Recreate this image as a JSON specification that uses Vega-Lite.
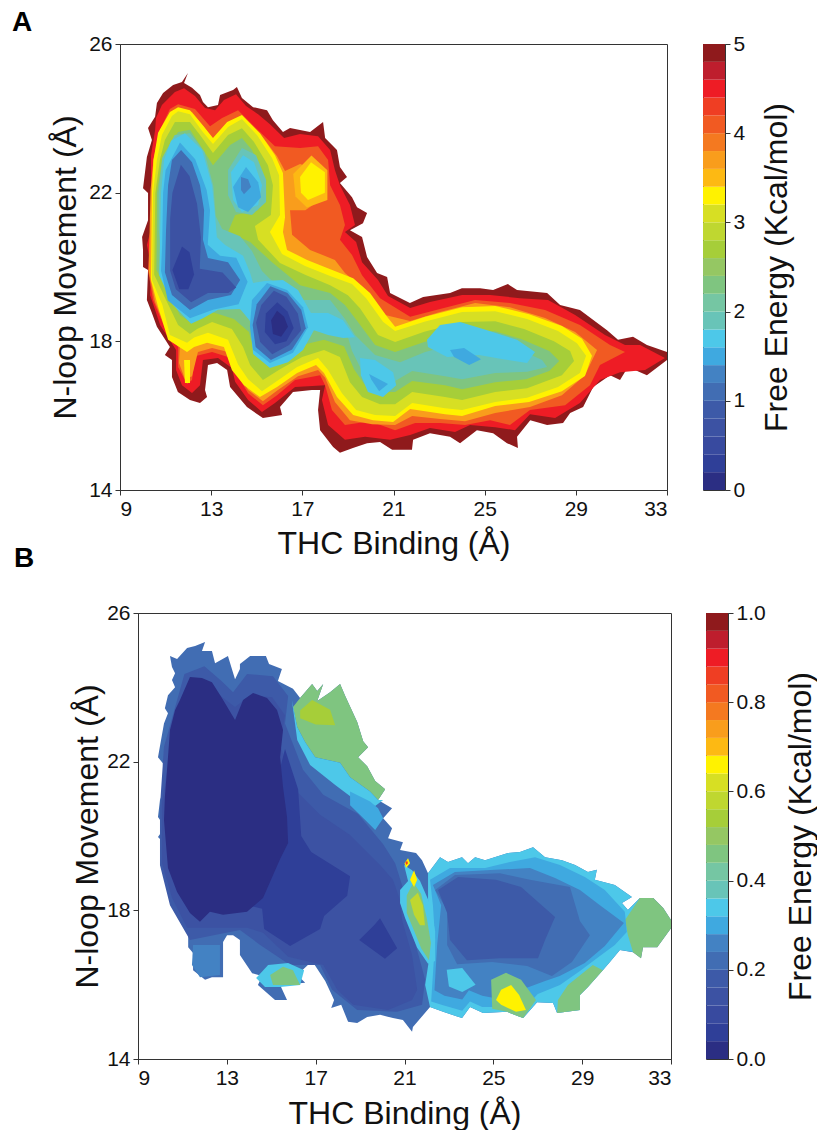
{"$schema":"https://vega.github.io/schema/vega-lite/v6.json","autosize":{"type":"none"},"padding":{"left":120,"top":44,"right":697,"bottom":1086},"background":"white","config":{"font":"Liberation Sans","view":{"stroke":"#333333","strokeWidth":1},"axis":{"grid":false,"labelFont":"Liberation Sans","titleFont":"Liberation Sans","labelFontSize":21,"titleFontSize":32,"titleFontWeight":"normal","labelColor":"#111","titleColor":"#111","domainColor":"#333","tickColor":"#333","tickSize":5,"labelPadding":3}},
"datasets":{"a":[
{"p":1,"l":4.8,"x":10.62,"y":24.41},{"p":1,"l":4.8,"x":10.89,"y":24.68},{"p":1,"l":4.8,"x":11.33,"y":24.9},{"p":1,"l":4.8,"x":11.72,"y":24.98},{"p":1,"l":4.8,"x":11.98,"y":25.22},{"p":1,"l":4.8,"x":11.81,"y":24.95},{"p":1,"l":4.8,"x":12.16,"y":24.82},{"p":1,"l":4.8,"x":12.51,"y":24.63},{"p":1,"l":4.8,"x":12.64,"y":24.44},{"p":1,"l":4.8,"x":12.86,"y":24.3},{"p":1,"l":4.8,"x":13.3,"y":24.36},{"p":1,"l":4.8,"x":13.39,"y":24.63},{"p":1,"l":4.8,"x":13.96,"y":24.76},{"p":1,"l":4.8,"x":14.13,"y":24.84},{"p":1,"l":4.8,"x":14.35,"y":24.55},{"p":1,"l":4.8,"x":14.84,"y":24.3},{"p":1,"l":4.8,"x":15.45,"y":24.22},{"p":1,"l":4.8,"x":15.71,"y":23.95},{"p":1,"l":4.8,"x":16.15,"y":23.63},{"p":1,"l":4.8,"x":16.46,"y":23.74},{"p":1,"l":4.8,"x":17.34,"y":23.63},{"p":1,"l":4.8,"x":17.91,"y":23.9},{"p":1,"l":4.8,"x":18,"y":23.47},{"p":1,"l":4.8,"x":18.52,"y":23.15},{"p":1,"l":4.8,"x":18.65,"y":22.69},{"p":1,"l":4.8,"x":18.96,"y":22.42},{"p":1,"l":4.8,"x":18.65,"y":22.26},{"p":1,"l":4.8,"x":19.18,"y":21.88},{"p":1,"l":4.8,"x":19.4,"y":21.61},{"p":1,"l":4.8,"x":19.84,"y":21.45},{"p":1,"l":4.8,"x":19.66,"y":21.18},{"p":1,"l":4.8,"x":19.09,"y":20.99},{"p":1,"l":4.8,"x":19.62,"y":20.81},{"p":1,"l":4.8,"x":19.84,"y":20.27},{"p":1,"l":4.8,"x":20.28,"y":19.84},{"p":1,"l":4.8,"x":20.72,"y":19.73},{"p":1,"l":4.8,"x":20.85,"y":19.3},{"p":1,"l":4.8,"x":21.72,"y":19.03},{"p":1,"l":4.8,"x":22.3,"y":19.19},{"p":1,"l":4.8,"x":23.48,"y":19.3},{"p":1,"l":4.8,"x":24,"y":19.43},{"p":1,"l":4.8,"x":24.8,"y":19.43},{"p":1,"l":4.8,"x":25.37,"y":19.38},{"p":1,"l":4.8,"x":26.02,"y":19.54},{"p":1,"l":4.8,"x":26.42,"y":19.38},{"p":1,"l":4.8,"x":27.74,"y":19.3},{"p":1,"l":4.8,"x":28.31,"y":18.98},{"p":1,"l":4.8,"x":29.18,"y":18.84},{"p":1,"l":4.8,"x":30.37,"y":18.3},{"p":1,"l":4.8,"x":30.85,"y":18.04},{"p":1,"l":4.8,"x":31.51,"y":18.12},{"p":1,"l":4.8,"x":32.12,"y":17.9},{"p":1,"l":4.8,"x":33,"y":17.71},{"p":1,"l":4.8,"x":33,"y":17.5},{"p":1,"l":4.8,"x":32.12,"y":17.09},{"p":1,"l":4.8,"x":31.29,"y":17.31},{"p":1,"l":4.8,"x":30.94,"y":16.96},{"p":1,"l":4.8,"x":30.5,"y":17.09},{"p":1,"l":4.8,"x":29.76,"y":16.77},{"p":1,"l":4.8,"x":29.32,"y":16.23},{"p":1,"l":4.8,"x":28.75,"y":16.07},{"p":1,"l":4.8,"x":28.44,"y":15.8},{"p":1,"l":4.8,"x":27.74,"y":15.75},{"p":1,"l":4.8,"x":27,"y":15.88},{"p":1,"l":4.8,"x":26.42,"y":15.43},{"p":1,"l":4.8,"x":26.46,"y":15.13},{"p":1,"l":4.8,"x":25.98,"y":15.26},{"p":1,"l":4.8,"x":25.37,"y":15.53},{"p":1,"l":4.8,"x":24.66,"y":15.61},{"p":1,"l":4.8,"x":23.92,"y":15.26},{"p":1,"l":4.8,"x":23.48,"y":15.43},{"p":1,"l":4.8,"x":22.6,"y":15.53},{"p":1,"l":4.8,"x":21.86,"y":15.35},{"p":1,"l":4.8,"x":21.81,"y":15.08},{"p":1,"l":4.8,"x":20.94,"y":15.08},{"p":1,"l":4.8,"x":20.41,"y":15.29},{"p":1,"l":4.8,"x":19.84,"y":15.26},{"p":1,"l":4.8,"x":19.22,"y":15.13},{"p":1,"l":4.8,"x":18.65,"y":15},{"p":1,"l":4.8,"x":18.35,"y":15.16},{"p":1,"l":4.8,"x":17.78,"y":15.61},{"p":1,"l":4.8,"x":17.69,"y":16.15},{"p":1,"l":4.8,"x":17.78,"y":16.69},{"p":1,"l":4.8,"x":17.42,"y":16.69},{"p":1,"l":4.8,"x":16.59,"y":16.64},{"p":1,"l":4.8,"x":16.02,"y":16.23},{"p":1,"l":4.8,"x":16.11,"y":16.02},{"p":1,"l":4.8,"x":15.27,"y":15.94},{"p":1,"l":4.8,"x":14.57,"y":16.23},{"p":1,"l":4.8,"x":13.83,"y":16.77},{"p":1,"l":4.8,"x":13.7,"y":17.23},{"p":1,"l":4.8,"x":13.26,"y":17.42},{"p":1,"l":4.8,"x":12.86,"y":17.36},{"p":1,"l":4.8,"x":12.73,"y":16.69},{"p":1,"l":4.8,"x":12.82,"y":16.5},{"p":1,"l":4.8,"x":12.51,"y":16.34},{"p":1,"l":4.8,"x":12.07,"y":16.42},{"p":1,"l":4.8,"x":11.54,"y":16.64},{"p":1,"l":4.8,"x":11.28,"y":17.04},{"p":1,"l":4.8,"x":11.28,"y":17.5},{"p":1,"l":4.8,"x":10.97,"y":17.63},{"p":1,"l":4.8,"x":11.19,"y":17.85},{"p":1,"l":4.8,"x":10.62,"y":18.39},{"p":1,"l":4.8,"x":10.4,"y":18.76},{"p":1,"l":4.8,"x":10.18,"y":19.11},{"p":1,"l":4.8,"x":10.23,"y":19.92},{"p":1,"l":4.8,"x":10.01,"y":20},{"p":1,"l":4.8,"x":10.01,"y":20.46},{"p":1,"l":4.8,"x":9.97,"y":20.81},{"p":1,"l":4.8,"x":10.23,"y":21.26},{"p":1,"l":4.8,"x":10.23,"y":21.99},{"p":1,"l":4.8,"x":10.01,"y":22.12},{"p":1,"l":4.8,"x":10.18,"y":22.96},{"p":1,"l":4.8,"x":10.4,"y":23.42},{"p":1,"l":4.8,"x":10.23,"y":23.74},{"p":1,"l":4.8,"x":10.54,"y":24.04},
{"p":2,"l":4.4,"x":10.58,"y":24.01},{"p":2,"l":4.4,"x":10.84,"y":24.36},{"p":2,"l":4.4,"x":11.41,"y":24.71},{"p":2,"l":4.4,"x":11.81,"y":24.81},{"p":2,"l":4.4,"x":12.29,"y":24.6},{"p":2,"l":4.4,"x":12.73,"y":24.28},{"p":2,"l":4.4,"x":13.17,"y":24.22},{"p":2,"l":4.4,"x":13.56,"y":24.49},{"p":2,"l":4.4,"x":14.09,"y":24.65},{"p":2,"l":4.4,"x":14.53,"y":24.33},{"p":2,"l":4.4,"x":15.06,"y":24.11},{"p":2,"l":4.4,"x":15.58,"y":23.84},{"p":2,"l":4.4,"x":16.2,"y":23.47},{"p":2,"l":4.4,"x":16.9,"y":23.58},{"p":2,"l":4.4,"x":17.69,"y":23.52},{"p":2,"l":4.4,"x":18.22,"y":23.15},{"p":2,"l":4.4,"x":18.43,"y":22.61},{"p":2,"l":4.4,"x":18.65,"y":22.2},{"p":2,"l":4.4,"x":19.09,"y":21.67},{"p":2,"l":4.4,"x":19.31,"y":21.13},{"p":2,"l":4.4,"x":18.87,"y":20.94},{"p":2,"l":4.4,"x":19.36,"y":20.67},{"p":2,"l":4.4,"x":19.62,"y":20.13},{"p":2,"l":4.4,"x":20.32,"y":19.65},{"p":2,"l":4.4,"x":20.76,"y":19.22},{"p":2,"l":4.4,"x":21.73,"y":18.9},{"p":2,"l":4.4,"x":22.6,"y":19.06},{"p":2,"l":4.4,"x":24.01,"y":19.25},{"p":2,"l":4.4,"x":25.24,"y":19.25},{"p":2,"l":4.4,"x":26.55,"y":19.16},{"p":2,"l":4.4,"x":27.78,"y":19.11},{"p":2,"l":4.4,"x":28.97,"y":18.71},{"p":2,"l":4.4,"x":30.28,"y":18.17},{"p":2,"l":4.4,"x":31.16,"y":17.9},{"p":2,"l":4.4,"x":31.82,"y":17.9},{"p":2,"l":4.4,"x":32.91,"y":17.55},{"p":2,"l":4.4,"x":32.04,"y":17.23},{"p":2,"l":4.4,"x":30.94,"y":17.17},{"p":2,"l":4.4,"x":30.06,"y":16.96},{"p":2,"l":4.4,"x":29.18,"y":16.34},{"p":2,"l":4.4,"x":28.09,"y":15.94},{"p":2,"l":4.4,"x":26.99,"y":16.04},{"p":2,"l":4.4,"x":26.33,"y":15.61},{"p":2,"l":4.4,"x":25.46,"y":15.69},{"p":2,"l":4.4,"x":24.36,"y":15.75},{"p":2,"l":4.4,"x":23.7,"y":15.56},{"p":2,"l":4.4,"x":22.6,"y":15.67},{"p":2,"l":4.4,"x":21.73,"y":15.48},{"p":2,"l":4.4,"x":20.85,"y":15.35},{"p":2,"l":4.4,"x":19.75,"y":15.43},{"p":2,"l":4.4,"x":18.87,"y":15.35},{"p":2,"l":4.4,"x":18.13,"y":15.75},{"p":2,"l":4.4,"x":17.86,"y":16.42},{"p":2,"l":4.4,"x":18,"y":16.82},{"p":2,"l":4.4,"x":16.68,"y":16.77},{"p":2,"l":4.4,"x":15.8,"y":16.34},{"p":2,"l":4.4,"x":15.23,"y":16.1},{"p":2,"l":4.4,"x":14.62,"y":16.42},{"p":2,"l":4.4,"x":14.05,"y":16.91},{"p":2,"l":4.4,"x":13.91,"y":17.28},{"p":2,"l":4.4,"x":13.3,"y":17.55},{"p":2,"l":4.4,"x":12.64,"y":17.5},{"p":2,"l":4.4,"x":12.51,"y":16.82},{"p":2,"l":4.4,"x":12.16,"y":16.61},{"p":2,"l":4.4,"x":11.72,"y":16.82},{"p":2,"l":4.4,"x":11.46,"y":17.23},{"p":2,"l":4.4,"x":11.46,"y":17.77},{"p":2,"l":4.4,"x":10.76,"y":18.44},{"p":2,"l":4.4,"x":10.54,"y":18.84},{"p":2,"l":4.4,"x":10.32,"y":19.25},{"p":2,"l":4.4,"x":10.36,"y":20.05},{"p":2,"l":4.4,"x":10.18,"y":20.59},{"p":2,"l":4.4,"x":10.4,"y":21.13},{"p":2,"l":4.4,"x":10.36,"y":22.07},{"p":2,"l":4.4,"x":10.36,"y":23.01},{"p":2,"l":4.4,"x":10.54,"y":23.68},
{"p":3,"l":4.0,"x":10.76,"y":23.69},{"p":3,"l":4.0,"x":11.19,"y":24.25},{"p":3,"l":4.0,"x":11.55,"y":24.38},{"p":3,"l":4.0,"x":12.29,"y":24.25},{"p":3,"l":4.0,"x":12.95,"y":23.79},{"p":3,"l":4.0,"x":13.48,"y":24.01},{"p":3,"l":4.0,"x":14.18,"y":24.22},{"p":3,"l":4.0,"x":14.97,"y":23.73},{"p":3,"l":4.0,"x":15.8,"y":23.25},{"p":3,"l":4.0,"x":16.9,"y":23.2},{"p":3,"l":4.0,"x":17.69,"y":23.25},{"p":3,"l":4.0,"x":18.13,"y":22.88},{"p":3,"l":4.0,"x":18.22,"y":22.2},{"p":3,"l":4.0,"x":18.65,"y":21.67},{"p":3,"l":4.0,"x":18.87,"y":21.13},{"p":3,"l":4.0,"x":18.65,"y":20.73},{"p":3,"l":4.0,"x":19.18,"y":20.32},{"p":3,"l":4.0,"x":19.62,"y":19.78},{"p":3,"l":4.0,"x":20.41,"y":19.16},{"p":3,"l":4.0,"x":21.73,"y":18.66},{"p":3,"l":4.0,"x":23.04,"y":18.87},{"p":3,"l":4.0,"x":24.58,"y":19.11},{"p":3,"l":4.0,"x":26.11,"y":19.03},{"p":3,"l":4.0,"x":27.65,"y":18.84},{"p":3,"l":4.0,"x":29.18,"y":18.44},{"p":3,"l":4.0,"x":30.5,"y":17.9},{"p":3,"l":4.0,"x":31.16,"y":17.71},{"p":3,"l":4.0,"x":30.06,"y":17.36},{"p":3,"l":4.0,"x":29.62,"y":16.82},{"p":3,"l":4.0,"x":28.53,"y":16.28},{"p":3,"l":4.0,"x":26.99,"y":16.15},{"p":3,"l":4.0,"x":26.11,"y":15.75},{"p":3,"l":4.0,"x":25.24,"y":15.88},{"p":3,"l":4.0,"x":24.14,"y":15.75},{"p":3,"l":4.0,"x":23.04,"y":15.8},{"p":3,"l":4.0,"x":21.95,"y":15.8},{"p":3,"l":4.0,"x":21.07,"y":15.61},{"p":3,"l":4.0,"x":19.97,"y":15.85},{"p":3,"l":4.0,"x":18.87,"y":15.75},{"p":3,"l":4.0,"x":18.3,"y":16.15},{"p":3,"l":4.0,"x":18.0,"y":16.82},{"p":3,"l":4.0,"x":17.78,"y":17.09},{"p":3,"l":4.0,"x":16.68,"y":16.96},{"p":3,"l":4.0,"x":15.89,"y":16.55},{"p":3,"l":4.0,"x":15.27,"y":16.28},{"p":3,"l":4.0,"x":14.62,"y":16.6},{"p":3,"l":4.0,"x":14.18,"y":17.06},{"p":3,"l":4.0,"x":13.74,"y":17.58},{"p":3,"l":4.0,"x":13.04,"y":17.71},{"p":3,"l":4.0,"x":12.29,"y":17.6},{"p":3,"l":4.0,"x":12.16,"y":16.96},{"p":3,"l":4.0,"x":11.94,"y":16.85},{"p":3,"l":4.0,"x":11.55,"y":17.31},{"p":3,"l":4.0,"x":11.55,"y":17.85},{"p":3,"l":4.0,"x":10.98,"y":18.34},{"p":3,"l":4.0,"x":10.45,"y":19.11},{"p":3,"l":4.0,"x":10.23,"y":19.92},{"p":3,"l":4.0,"x":10.32,"y":20.99},{"p":3,"l":4.0,"x":10.4,"y":22.07},{"p":3,"l":4.0,"x":10.45,"y":22.88},
{"p":4,"l":3.6,"x":10.47,"y":22.88},{"p":4,"l":3.6,"x":10.8,"y":23.74},{"p":4,"l":3.6,"x":11.28,"y":24.11},{"p":4,"l":3.6,"x":11.55,"y":24.25},{"p":4,"l":3.6,"x":12.16,"y":24.17},{"p":4,"l":3.6,"x":12.73,"y":23.73},{"p":4,"l":3.6,"x":13.08,"y":23.39},{"p":4,"l":3.6,"x":13.65,"y":23.84},{"p":4,"l":3.6,"x":14.31,"y":24.06},{"p":4,"l":3.6,"x":15.23,"y":23.52},{"p":4,"l":3.6,"x":15.89,"y":22.98},{"p":4,"l":3.6,"x":16.24,"y":22.58},{"p":4,"l":3.6,"x":16.9,"y":22.77},{"p":4,"l":3.6,"x":17.78,"y":22.58},{"p":4,"l":3.6,"x":18,"y":21.9},{"p":4,"l":3.6,"x":17.13,"y":21.53},{"p":4,"l":3.6,"x":16.46,"y":21.53},{"p":4,"l":3.6,"x":16.55,"y":20.87},{"p":4,"l":3.6,"x":17.34,"y":20.46},{"p":4,"l":3.6,"x":18.43,"y":20.19},{"p":4,"l":3.6,"x":18.87,"y":19.84},{"p":4,"l":3.6,"x":19.75,"y":19.38},{"p":4,"l":3.6,"x":20.63,"y":18.71},{"p":4,"l":3.6,"x":21.73,"y":18.55},{"p":4,"l":3.6,"x":23.04,"y":18.79},{"p":4,"l":3.6,"x":24.58,"y":19.03},{"p":4,"l":3.6,"x":26.11,"y":18.92},{"p":4,"l":3.6,"x":27.65,"y":18.63},{"p":4,"l":3.6,"x":28.97,"y":18.25},{"p":4,"l":3.6,"x":29.93,"y":17.77},{"p":4,"l":3.6,"x":29.4,"y":17.09},{"p":4,"l":3.6,"x":28.39,"y":16.55},{"p":4,"l":3.6,"x":26.99,"y":16.23},{"p":4,"l":3.6,"x":25.46,"y":16.07},{"p":4,"l":3.6,"x":24.14,"y":15.85},{"p":4,"l":3.6,"x":23.04,"y":15.91},{"p":4,"l":3.6,"x":21.82,"y":15.99},{"p":4,"l":3.6,"x":21.07,"y":15.75},{"p":4,"l":3.6,"x":20.06,"y":15.77},{"p":4,"l":3.6,"x":19.09,"y":15.88},{"p":4,"l":3.6,"x":18.43,"y":16.37},{"p":4,"l":3.6,"x":18.0,"y":17.02},{"p":4,"l":3.6,"x":17.69,"y":17.23},{"p":4,"l":3.6,"x":16.81,"y":17.06},{"p":4,"l":3.6,"x":15.93,"y":16.69},{"p":4,"l":3.6,"x":15.27,"y":16.39},{"p":4,"l":3.6,"x":14.62,"y":16.69},{"p":4,"l":3.6,"x":14.18,"y":17.15},{"p":4,"l":3.6,"x":13.74,"y":17.71},{"p":4,"l":3.6,"x":13.04,"y":17.82},{"p":4,"l":3.6,"x":12.42,"y":17.71},{"p":4,"l":3.6,"x":12.16,"y":17.06},{"p":4,"l":3.6,"x":11.85,"y":16.98},{"p":4,"l":3.6,"x":11.59,"y":17.42},{"p":4,"l":3.6,"x":11.63,"y":17.88},{"p":4,"l":3.6,"x":11.11,"y":18.2},{"p":4,"l":3.6,"x":10.54,"y":19.06},{"p":4,"l":3.6,"x":10.27,"y":19.86},{"p":4,"l":3.6,"x":10.3,"y":20.99},{"p":4,"l":3.6,"x":10.34,"y":22.07},
{"p":5,"l":3.2,"x":10.47,"y":22.88},{"p":5,"l":3.2,"x":10.67,"y":23.61},{"p":5,"l":3.2,"x":11.19,"y":24.17},{"p":5,"l":3.2,"x":11.55,"y":24.3},{"p":5,"l":3.2,"x":12.07,"y":24.22},{"p":5,"l":3.2,"x":12.64,"y":23.81},{"p":5,"l":3.2,"x":13.08,"y":23.47},{"p":5,"l":3.2,"x":13.7,"y":23.9},{"p":5,"l":3.2,"x":14.35,"y":24.09},{"p":5,"l":3.2,"x":15.14,"y":23.6},{"p":5,"l":3.2,"x":15.8,"y":23.01},{"p":5,"l":3.2,"x":16.15,"y":22.53},{"p":5,"l":3.2,"x":16.24,"y":21.34},{"p":5,"l":3.2,"x":16.15,"y":20.94},{"p":5,"l":3.2,"x":16.33,"y":20.46},{"p":5,"l":3.2,"x":17.21,"y":20.19},{"p":5,"l":3.2,"x":18.09,"y":19.97},{"p":5,"l":3.2,"x":19.23,"y":19.7},{"p":5,"l":3.2,"x":19.97,"y":19.3},{"p":5,"l":3.2,"x":20.72,"y":18.66},{"p":5,"l":3.2,"x":21.07,"y":18.39},{"p":5,"l":3.2,"x":22.39,"y":18.66},{"p":5,"l":3.2,"x":24.01,"y":18.92},{"p":5,"l":3.2,"x":25.46,"y":18.95},{"p":5,"l":3.2,"x":26.95,"y":18.73},{"p":5,"l":3.2,"x":28.39,"y":18.41},{"p":5,"l":3.2,"x":29.27,"y":18.07},{"p":5,"l":3.2,"x":29.71,"y":17.61},{"p":5,"l":3.2,"x":29.4,"y":17.07},{"p":5,"l":3.2,"x":28.39,"y":16.66},{"p":5,"l":3.2,"x":26.95,"y":16.37},{"p":5,"l":3.2,"x":25.46,"y":16.26},{"p":5,"l":3.2,"x":24.01,"y":15.99},{"p":5,"l":3.2,"x":23.26,"y":16.04},{"p":5,"l":3.2,"x":21.73,"y":16.18},{"p":5,"l":3.2,"x":20.98,"y":15.83},{"p":5,"l":3.2,"x":20.1,"y":15.88},{"p":5,"l":3.2,"x":19.23,"y":16.02},{"p":5,"l":3.2,"x":18.52,"y":16.5},{"p":5,"l":3.2,"x":17.95,"y":17.15},{"p":5,"l":3.2,"x":17.6,"y":17.36},{"p":5,"l":3.2,"x":16.77,"y":17.15},{"p":5,"l":3.2,"x":15.89,"y":16.77},{"p":5,"l":3.2,"x":15.14,"y":16.5},{"p":5,"l":3.2,"x":14.44,"y":16.82},{"p":5,"l":3.2,"x":13.91,"y":17.23},{"p":5,"l":3.2,"x":13.56,"y":17.85},{"p":5,"l":3.2,"x":12.82,"y":17.96},{"p":5,"l":3.2,"x":12.25,"y":17.85},{"p":5,"l":3.2,"x":11.94,"y":17.71},{"p":5,"l":3.2,"x":11.11,"y":18.04},{"p":5,"l":3.2,"x":10.67,"y":18.93},{"p":5,"l":3.2,"x":10.36,"y":19.65},{"p":5,"l":3.2,"x":10.4,"y":21.99},
{"p":61,"l":3.4,"x":16.6,"y":22.5},{"p":61,"l":3.4,"x":17.4,"y":23},{"p":61,"l":3.4,"x":18.1,"y":22.6},{"p":61,"l":3.4,"x":18.1,"y":21.8},{"p":61,"l":3.4,"x":17.2,"y":21.6},{"p":61,"l":3.4,"x":16.7,"y":21.9},
{"p":6,"l":3.2,"x":16.9,"y":22.42},{"p":6,"l":3.2,"x":17.38,"y":22.82},{"p":6,"l":3.2,"x":17.99,"y":22.55},{"p":6,"l":3.2,"x":17.99,"y":22.0},{"p":6,"l":3.2,"x":17.25,"y":21.8},{"p":6,"l":3.2,"x":16.94,"y":22.0},
{"p":7,"l":3.2,"x":11.81,"y":17.5},{"p":7,"l":3.2,"x":12.07,"y":17.5},{"p":7,"l":3.2,"x":12.07,"y":16.88},{"p":7,"l":3.2,"x":11.85,"y":16.88},
{"p":8,"l":3.0,"x":10.62,"y":22.88},{"p":8,"l":3.0,"x":10.84,"y":23.55},{"p":8,"l":3.0,"x":11.28,"y":24.06},{"p":8,"l":3.0,"x":11.55,"y":24.19},{"p":8,"l":3.0,"x":12.07,"y":24.11},{"p":8,"l":3.0,"x":12.6,"y":23.66},{"p":8,"l":3.0,"x":13.08,"y":23.31},{"p":8,"l":3.0,"x":13.74,"y":23.77},{"p":8,"l":3.0,"x":14.35,"y":23.98},{"p":8,"l":3.0,"x":15.01,"y":23.55},{"p":8,"l":3.0,"x":15.67,"y":22.93},{"p":8,"l":3.0,"x":15.98,"y":22.47},{"p":8,"l":3.0,"x":16.02,"y":21.4},{"p":8,"l":3.0,"x":15.58,"y":20.94},{"p":8,"l":3.0,"x":16.11,"y":20.35},{"p":8,"l":3.0,"x":17.12,"y":20.03},{"p":8,"l":3.0,"x":18.22,"y":19.76},{"p":8,"l":3.0,"x":19.18,"y":19.54},{"p":8,"l":3.0,"x":19.8,"y":19.16},{"p":8,"l":3.0,"x":20.54,"y":18.53},{"p":8,"l":3.0,"x":21.07,"y":18.28},{"p":8,"l":3.0,"x":22.35,"y":18.53},{"p":8,"l":3.0,"x":24.01,"y":18.79},{"p":8,"l":3.0,"x":25.46,"y":18.81},{"p":8,"l":3.0,"x":26.86,"y":18.6},{"p":8,"l":3.0,"x":28.22,"y":18.28},{"p":8,"l":3.0,"x":29.05,"y":17.95},{"p":8,"l":3.0,"x":29.45,"y":17.61},{"p":8,"l":3.0,"x":29.18,"y":17.15},{"p":8,"l":3.0,"x":28.22,"y":16.77},{"p":8,"l":3.0,"x":26.86,"y":16.48},{"p":8,"l":3.0,"x":25.46,"y":16.37},{"p":8,"l":3.0,"x":24.01,"y":16.15},{"p":8,"l":3.0,"x":23.26,"y":16.2},{"p":8,"l":3.0,"x":21.82,"y":16.34},{"p":8,"l":3.0,"x":21.07,"y":15.99},{"p":8,"l":3.0,"x":20.19,"y":16.02},{"p":8,"l":3.0,"x":19.36,"y":16.15},{"p":8,"l":3.0,"x":18.74,"y":16.6},{"p":8,"l":3.0,"x":18.13,"y":17.23},{"p":8,"l":3.0,"x":17.69,"y":17.55},{"p":8,"l":3.0,"x":16.77,"y":17.31},{"p":8,"l":3.0,"x":15.89,"y":16.93},{"p":8,"l":3.0,"x":15.23,"y":16.66},{"p":8,"l":3.0,"x":14.62,"y":16.98},{"p":8,"l":3.0,"x":14.18,"y":17.38},{"p":8,"l":3.0,"x":13.74,"y":18.04},{"p":8,"l":3.0,"x":12.86,"y":18.23},{"p":8,"l":3.0,"x":12.25,"y":18.1},{"p":8,"l":3.0,"x":11.94,"y":17.96},{"p":8,"l":3.0,"x":11.19,"y":18.17},{"p":8,"l":3.0,"x":10.86,"y":18.98},{"p":8,"l":3.0,"x":10.4,"y":19.65},{"p":8,"l":3.0,"x":10.45,"y":21.99},
{"p":9,"l":2.6,"x":10.75,"y":22.88},{"p":9,"l":2.6,"x":10.97,"y":23.42},{"p":9,"l":2.6,"x":11.41,"y":23.9},{"p":9,"l":2.6,"x":12.07,"y":23.9},{"p":9,"l":2.6,"x":12.51,"y":23.55},{"p":9,"l":2.6,"x":13.08,"y":23.07},{"p":9,"l":2.6,"x":13.74,"y":23.55},{"p":9,"l":2.6,"x":14.35,"y":23.73},{"p":9,"l":2.6,"x":14.88,"y":23.36},{"p":9,"l":2.6,"x":15.49,"y":22.74},{"p":9,"l":2.6,"x":15.71,"y":22.2},{"p":9,"l":2.6,"x":15.62,"y":21.4},{"p":9,"l":2.6,"x":14.92,"y":21.1},{"p":9,"l":2.6,"x":15.06,"y":20.73},{"p":9,"l":2.6,"x":16.02,"y":20.11},{"p":9,"l":2.6,"x":17.12,"y":19.79},{"p":9,"l":2.6,"x":18.22,"y":19.51},{"p":9,"l":2.6,"x":19,"y":19.24},{"p":9,"l":2.6,"x":19.53,"y":18.89},{"p":9,"l":2.6,"x":20.32,"y":18.17},{"p":9,"l":2.6,"x":21.07,"y":17.98},{"p":9,"l":2.6,"x":22.35,"y":18.26},{"p":9,"l":2.6,"x":24.01,"y":18.52},{"p":9,"l":2.6,"x":25.46,"y":18.54},{"p":9,"l":2.6,"x":26.73,"y":18.33},{"p":9,"l":2.6,"x":28.04,"y":18},{"p":9,"l":2.6,"x":28.75,"y":17.74},{"p":9,"l":2.6,"x":28.92,"y":17.47},{"p":9,"l":2.6,"x":28.39,"y":17.09},{"p":9,"l":2.6,"x":26.86,"y":16.74},{"p":9,"l":2.6,"x":25.46,"y":16.64},{"p":9,"l":2.6,"x":24.01,"y":16.42},{"p":9,"l":2.6,"x":23.26,"y":16.5},{"p":9,"l":2.6,"x":21.82,"y":16.64},{"p":9,"l":2.6,"x":21.07,"y":16.31},{"p":9,"l":2.6,"x":20.41,"y":16.31},{"p":9,"l":2.6,"x":19.62,"y":16.5},{"p":9,"l":2.6,"x":19.09,"y":16.9},{"p":9,"l":2.6,"x":18.65,"y":17.58},{"p":9,"l":2.6,"x":17.95,"y":17.77},{"p":9,"l":2.6,"x":16.99,"y":17.58},{"p":9,"l":2.6,"x":16.02,"y":17.25},{"p":9,"l":2.6,"x":15.27,"y":16.96},{"p":9,"l":2.6,"x":14.71,"y":17.36},{"p":9,"l":2.6,"x":14.4,"y":17.85},{"p":9,"l":2.6,"x":13.91,"y":18.33},{"p":9,"l":2.6,"x":13.04,"y":18.52},{"p":9,"l":2.6,"x":12.38,"y":18.33},{"p":9,"l":2.6,"x":12.07,"y":18.2},{"p":9,"l":2.6,"x":11.55,"y":18.44},{"p":9,"l":2.6,"x":11.02,"y":19.11},{"p":9,"l":2.6,"x":10.5,"y":19.79},{"p":9,"l":2.6,"x":10.55,"y":21.99},
{"p":10,"l":2.2,"x":10.85,"y":22.88},{"p":10,"l":2.2,"x":11.19,"y":23.28},{"p":10,"l":2.2,"x":11.55,"y":23.63},{"p":10,"l":2.2,"x":12.07,"y":23.69},{"p":10,"l":2.2,"x":12.51,"y":23.28},{"p":10,"l":2.2,"x":13.08,"y":22.74},{"p":10,"l":2.2,"x":13.83,"y":23.28},{"p":10,"l":2.2,"x":14.35,"y":23.47},{"p":10,"l":2.2,"x":14.79,"y":23.15},{"p":10,"l":2.2,"x":15.23,"y":22.55},{"p":10,"l":2.2,"x":15.36,"y":21.93},{"p":10,"l":2.2,"x":15.06,"y":21.53},{"p":10,"l":2.2,"x":14.05,"y":21.4},{"p":10,"l":2.2,"x":13.74,"y":20.94},{"p":10,"l":2.2,"x":14.71,"y":20.67},{"p":10,"l":2.2,"x":15.67,"y":20.13},{"p":10,"l":2.2,"x":16.9,"y":19.51},{"p":10,"l":2.2,"x":18.22,"y":19.3},{"p":10,"l":2.2,"x":18.87,"y":18.98},{"p":10,"l":2.2,"x":19.44,"y":18.52},{"p":10,"l":2.2,"x":20.19,"y":17.9},{"p":10,"l":2.2,"x":21.07,"y":17.71},{"p":10,"l":2.2,"x":22.35,"y":17.98},{"p":10,"l":2.2,"x":24.01,"y":18.25},{"p":10,"l":2.2,"x":25.46,"y":18.27},{"p":10,"l":2.2,"x":26.6,"y":18.06},{"p":10,"l":2.2,"x":27.83,"y":17.74},{"p":10,"l":2.2,"x":28.27,"y":17.47},{"p":10,"l":2.2,"x":27.83,"y":17.2},{"p":10,"l":2.2,"x":26.82,"y":16.98},{"p":10,"l":2.2,"x":25.46,"y":16.9},{"p":10,"l":2.2,"x":24.01,"y":16.71},{"p":10,"l":2.2,"x":23.26,"y":16.82},{"p":10,"l":2.2,"x":21.82,"y":16.93},{"p":10,"l":2.2,"x":21.07,"y":16.64},{"p":10,"l":2.2,"x":20.41,"y":16.64},{"p":10,"l":2.2,"x":19.71,"y":16.85},{"p":10,"l":2.2,"x":19.27,"y":17.25},{"p":10,"l":2.2,"x":18.83,"y":17.87},{"p":10,"l":2.2,"x":17.95,"y":18.04},{"p":10,"l":2.2,"x":16.99,"y":17.9},{"p":10,"l":2.2,"x":16.11,"y":17.6},{"p":10,"l":2.2,"x":15.36,"y":17.47},{"p":10,"l":2.2,"x":14.88,"y":17.71},{"p":10,"l":2.2,"x":14.66,"y":18.25},{"p":10,"l":2.2,"x":14.0,"y":18.6},{"p":10,"l":2.2,"x":13.04,"y":18.79},{"p":10,"l":2.2,"x":12.38,"y":18.66},{"p":10,"l":2.2,"x":12.07,"y":18.52},{"p":10,"l":2.2,"x":11.63,"y":18.71},{"p":10,"l":2.2,"x":11.11,"y":19.32},{"p":10,"l":2.2,"x":10.6,"y":19.92},{"p":10,"l":2.2,"x":10.62,"y":21.99},
{"p":11,"l":1.8,"x":10.7,"y":21.99},{"p":11,"l":1.8,"x":10.85,"y":22.93},{"p":11,"l":1.8,"x":11.4,"y":23.55},{"p":11,"l":1.8,"x":12.07,"y":23.6},{"p":11,"l":1.8,"x":12.7,"y":23.1},{"p":11,"l":1.8,"x":13.1,"y":22.17},{"p":11,"l":1.8,"x":13.2,"y":21.37},{"p":11,"l":1.8,"x":13.48,"y":21.02},{"p":11,"l":1.8,"x":14.27,"y":20.83},{"p":11,"l":1.8,"x":14.79,"y":20.43},{"p":11,"l":1.8,"x":15.23,"y":19.89},{"p":11,"l":1.8,"x":15.58,"y":19.68},{"p":11,"l":1.8,"x":16.9,"y":19.11},{"p":11,"l":1.8,"x":18.22,"y":19.11},{"p":11,"l":1.8,"x":18.87,"y":18.6},{"p":11,"l":1.8,"x":19.31,"y":18.17},{"p":11,"l":1.8,"x":20.19,"y":17.63},{"p":11,"l":1.8,"x":21.29,"y":17.44},{"p":11,"l":1.8,"x":22.39,"y":17.71},{"p":11,"l":1.8,"x":24.01,"y":17.98},{"p":11,"l":1.8,"x":25.46,"y":18},{"p":11,"l":1.8,"x":26.55,"y":17.77},{"p":11,"l":1.8,"x":27.52,"y":17.5},{"p":11,"l":1.8,"x":27.74,"y":17.31},{"p":11,"l":1.8,"x":26.86,"y":17.18},{"p":11,"l":1.8,"x":25.46,"y":17.15},{"p":11,"l":1.8,"x":24.01,"y":16.98},{"p":11,"l":1.8,"x":23.26,"y":17.06},{"p":11,"l":1.8,"x":21.82,"y":17.2},{"p":11,"l":1.8,"x":21.07,"y":16.93},{"p":11,"l":1.8,"x":20.28,"y":16.93},{"p":11,"l":1.8,"x":19.62,"y":17.2},{"p":11,"l":1.8,"x":19.18,"y":17.74},{"p":11,"l":1.8,"x":18.96,"y":18.2},{"p":11,"l":1.8,"x":17.95,"y":18.47},{"p":11,"l":1.8,"x":16.99,"y":18.41},{"p":11,"l":1.8,"x":16.11,"y":18.04},{"p":11,"l":1.8,"x":15.36,"y":17.9},{"p":11,"l":1.8,"x":15.01,"y":18.3},{"p":11,"l":1.8,"x":14.35,"y":18.84},{"p":11,"l":1.8,"x":13.7,"y":18.98},{"p":11,"l":1.8,"x":12.6,"y":18.75},{"p":11,"l":1.8,"x":12.16,"y":18.6},{"p":11,"l":1.8,"x":11.4,"y":18.95},{"p":11,"l":1.8,"x":10.85,"y":19.92},{"p":11,"l":1.8,"x":10.7,"y":20.99},
{"p":12,"l":1.8,"x":13.74,"y":22.61},{"p":12,"l":1.8,"x":14.35,"y":23.2},{"p":12,"l":1.8,"x":14.97,"y":23.01},{"p":12,"l":1.8,"x":15.41,"y":22.34},{"p":12,"l":1.8,"x":15.41,"y":21.75},{"p":12,"l":1.8,"x":14.79,"y":21.4},{"p":12,"l":1.8,"x":14.09,"y":21.48},{"p":12,"l":1.8,"x":13.74,"y":21.93},
{"p":13,"l":1.6,"x":10.8,"y":21.99},{"p":13,"l":1.6,"x":10.93,"y":22.88},{"p":13,"l":1.6,"x":11.24,"y":23.4},{"p":13,"l":1.6,"x":11.85,"y":23.6},{"p":13,"l":1.6,"x":12.6,"y":23.15},{"p":13,"l":1.6,"x":13.04,"y":22.2},{"p":13,"l":1.6,"x":13.17,"y":21.4},{"p":13,"l":1.6,"x":13.25,"y":20.8},{"p":13,"l":1.6,"x":13.61,"y":20.59},{"p":13,"l":1.6,"x":14.4,"y":20.3},{"p":13,"l":1.6,"x":14.71,"y":19.84},{"p":13,"l":1.6,"x":14.84,"y":19.57},{"p":13,"l":1.6,"x":15.36,"y":19.62},{"p":13,"l":1.6,"x":16.15,"y":19.65},{"p":13,"l":1.6,"x":16.81,"y":19.38},{"p":13,"l":1.6,"x":17.38,"y":18.76},{"p":13,"l":1.6,"x":18.13,"y":18.76},{"p":13,"l":1.6,"x":18.79,"y":18.57},{"p":13,"l":1.6,"x":19.31,"y":18.11},{"p":13,"l":1.6,"x":18.79,"y":18.09},{"p":13,"l":1.6,"x":18.13,"y":18.17},{"p":13,"l":1.6,"x":17.51,"y":18.3},{"p":13,"l":1.6,"x":17.03,"y":17.77},{"p":13,"l":1.6,"x":16.37,"y":17.44},{"p":13,"l":1.6,"x":15.58,"y":17.28},{"p":13,"l":1.6,"x":14.84,"y":17.66},{"p":13,"l":1.6,"x":14.71,"y":18.55},{"p":13,"l":1.6,"x":14.27,"y":18.87},{"p":13,"l":1.6,"x":13.3,"y":18.85},{"p":13,"l":1.6,"x":12.64,"y":18.62},{"p":13,"l":1.6,"x":12.12,"y":18.47},{"p":13,"l":1.6,"x":11.3,"y":19},{"p":13,"l":1.6,"x":10.72,"y":19.78},
{"p":14,"l":1.6,"x":13.87,"y":22.55},{"p":14,"l":1.6,"x":14.4,"y":23.01},{"p":14,"l":1.6,"x":14.88,"y":22.82},{"p":14,"l":1.6,"x":15.23,"y":22.2},{"p":14,"l":1.6,"x":15.06,"y":21.67},{"p":14,"l":1.6,"x":14.35,"y":21.48},{"p":14,"l":1.6,"x":13.96,"y":21.8},
{"p":15,"l":1.6,"x":19.53,"y":17.55},{"p":15,"l":1.6,"x":20.19,"y":17.5},{"p":15,"l":1.6,"x":20.98,"y":17.17},{"p":15,"l":1.6,"x":21.12,"y":16.82},{"p":15,"l":1.6,"x":20.54,"y":16.5},{"p":15,"l":1.6,"x":19.88,"y":16.64},{"p":15,"l":1.6,"x":19.57,"y":17.09},
{"p":16,"l":1.6,"x":22.47,"y":18.04},{"p":16,"l":1.6,"x":23.04,"y":18.44},{"p":16,"l":1.6,"x":23.92,"y":18.52},{"p":16,"l":1.6,"x":25.11,"y":18.3},{"p":16,"l":1.6,"x":26.42,"y":18.04},{"p":16,"l":1.6,"x":27.21,"y":17.71},{"p":16,"l":1.6,"x":26.86,"y":17.42},{"p":16,"l":1.6,"x":25.81,"y":17.52},{"p":16,"l":1.6,"x":24.76,"y":17.63},{"p":16,"l":1.6,"x":23.35,"y":17.58},{"p":16,"l":1.6,"x":22.51,"y":17.85},
{"p":17,"l":1.4,"x":10.89,"y":21.99},{"p":17,"l":1.4,"x":11,"y":22.6},{"p":17,"l":1.4,"x":11.63,"y":23.35},{"p":17,"l":1.4,"x":12.3,"y":22.9},{"p":17,"l":1.4,"x":12.8,"y":22.07},{"p":17,"l":1.4,"x":12.95,"y":21.53},{"p":17,"l":1.4,"x":12.85,"y":20.6},{"p":17,"l":1.4,"x":13.39,"y":20.3},{"p":17,"l":1.4,"x":14.1,"y":20.25},{"p":17,"l":1.4,"x":14.6,"y":19.6},{"p":17,"l":1.4,"x":14.2,"y":19},{"p":17,"l":1.4,"x":13.08,"y":18.85},{"p":17,"l":1.4,"x":12.07,"y":18.62},{"p":17,"l":1.4,"x":11.1,"y":19.1},{"p":17,"l":1.4,"x":10.8,"y":19.9},{"p":17,"l":1.4,"x":10.85,"y":20.6},
{"p":18,"l":1.4,"x":14.53,"y":22.69},{"p":18,"l":1.4,"x":15.06,"y":22.28},{"p":18,"l":1.4,"x":15.19,"y":21.88},{"p":18,"l":1.4,"x":14.62,"y":21.48},{"p":18,"l":1.4,"x":14.18,"y":21.61},{"p":18,"l":1.4,"x":13.96,"y":22.15},
{"p":19,"l":1.4,"x":14.79,"y":19.11},{"p":19,"l":1.4,"x":15.45,"y":19.57},{"p":19,"l":1.4,"x":16.33,"y":19.38},{"p":19,"l":1.4,"x":17.03,"y":18.92},{"p":19,"l":1.4,"x":17.25,"y":18.38},{"p":19,"l":1.4,"x":16.59,"y":17.69},{"p":19,"l":1.4,"x":15.58,"y":17.42},{"p":19,"l":1.4,"x":14.84,"y":17.77},{"p":19,"l":1.4,"x":14.7,"y":18.4},
{"p":20,"l":1.4,"x":19.93,"y":17.12},{"p":20,"l":1.4,"x":20.76,"y":16.85},{"p":20,"l":1.4,"x":20.37,"y":16.66},{"p":20,"l":1.4,"x":20.02,"y":16.98},
{"p":21,"l":1.4,"x":23.48,"y":17.77},{"p":21,"l":1.4,"x":24.1,"y":17.82},{"p":21,"l":1.4,"x":24.84,"y":17.52},{"p":21,"l":1.4,"x":24.32,"y":17.36},{"p":21,"l":1.4,"x":23.66,"y":17.58},
{"p":22,"l":1.0,"x":11.11,"y":22.2},{"p":22,"l":1.0,"x":11.28,"y":22.88},{"p":22,"l":1.0,"x":11.68,"y":23.15},{"p":22,"l":1.0,"x":12.16,"y":22.82},{"p":22,"l":1.0,"x":12.51,"y":22.2},{"p":22,"l":1.0,"x":12.69,"y":21.53},{"p":22,"l":1.0,"x":12.64,"y":20.73},{"p":22,"l":1.0,"x":12.86,"y":20.24},{"p":22,"l":1.0,"x":13.74,"y":20.13},{"p":22,"l":1.0,"x":14.27,"y":19.65},{"p":22,"l":1.0,"x":13.87,"y":19.25},{"p":22,"l":1.0,"x":12.86,"y":19.11},{"p":22,"l":1.0,"x":12.07,"y":18.84},{"p":22,"l":1.0,"x":11.28,"y":19.25},{"p":22,"l":1.0,"x":10.97,"y":19.86},{"p":22,"l":1.0,"x":11.02,"y":20.99},
{"p":23,"l":1.0,"x":15,"y":19},{"p":23,"l":1.0,"x":15.6,"y":19.48},{"p":23,"l":1.0,"x":16.35,"y":19.3},{"p":23,"l":1.0,"x":16.95,"y":18.85},{"p":23,"l":1.0,"x":17.15,"y":18.35},{"p":23,"l":1.0,"x":16.55,"y":17.78},{"p":23,"l":1.0,"x":15.62,"y":17.5},{"p":23,"l":1.0,"x":14.95,"y":17.85},{"p":23,"l":1.0,"x":14.82,"y":18.44},
{"p":24,"l":1.2,"x":14.31,"y":22.42},{"p":24,"l":1.2,"x":14.62,"y":22.36},{"p":24,"l":1.2,"x":14.75,"y":22.15},{"p":24,"l":1.2,"x":14.44,"y":21.96},{"p":24,"l":1.2,"x":14.31,"y":22.07},
{"p":25,"l":0.6,"x":11.2,"y":21.3},{"p":25,"l":0.6,"x":11.3,"y":22},{"p":25,"l":0.6,"x":11.67,"y":22.75},{"p":25,"l":0.6,"x":12.05,"y":22.45},{"p":25,"l":0.6,"x":12.38,"y":21.7},{"p":25,"l":0.6,"x":12.55,"y":20.8},{"p":25,"l":0.6,"x":12.5,"y":19.95},{"p":25,"l":0.6,"x":13.5,"y":19.85},{"p":25,"l":0.6,"x":14.1,"y":19.45},{"p":25,"l":0.6,"x":13.75,"y":19.3},{"p":25,"l":0.6,"x":12.86,"y":19.3},{"p":25,"l":0.6,"x":12.12,"y":19.05},{"p":25,"l":0.6,"x":11.45,"y":19.4},{"p":25,"l":0.6,"x":11.2,"y":19.9},{"p":25,"l":0.6,"x":11.2,"y":20.64},
{"p":26,"l":0.6,"x":15.2,"y":18.98},{"p":26,"l":0.6,"x":15.75,"y":19.36},{"p":26,"l":0.6,"x":16.3,"y":19.2},{"p":26,"l":0.6,"x":16.8,"y":18.75},{"p":26,"l":0.6,"x":16.95,"y":18.3},{"p":26,"l":0.6,"x":16.42,"y":17.9},{"p":26,"l":0.6,"x":15.68,"y":17.65},{"p":26,"l":0.6,"x":15.15,"y":17.98},{"p":26,"l":0.6,"x":14.97,"y":18.5},
{"p":27,"l":0.2,"x":11.3,"y":19.92},{"p":27,"l":0.2,"x":11.72,"y":20.55},{"p":27,"l":0.2,"x":12.05,"y":20.4},{"p":27,"l":0.2,"x":12.25,"y":19.8},{"p":27,"l":0.2,"x":12,"y":19.4},{"p":27,"l":0.2,"x":11.6,"y":19.4},
{"p":28,"l":0.2,"x":15.4,"y":18.75},{"p":28,"l":0.2,"x":15.9,"y":19.05},{"p":28,"l":0.2,"x":16.35,"y":18.8},{"p":28,"l":0.2,"x":16.62,"y":18.36},{"p":28,"l":0.2,"x":16.3,"y":18},{"p":28,"l":0.2,"x":15.8,"y":17.92},{"p":28,"l":0.2,"x":15.35,"y":18.25},
{"p":29,"l":0.0,"x":15.63,"y":18.57},{"p":29,"l":0.0,"x":15.89,"y":18.82},{"p":29,"l":0.0,"x":16.2,"y":18.66},{"p":29,"l":0.0,"x":16.37,"y":18.39},{"p":29,"l":0.0,"x":16.07,"y":18.12},{"p":29,"l":0.0,"x":15.71,"y":18.2}
],
"b":[
{"p":1,"l":0.2,"x":10.44,"y":24.84},{"p":1,"l":0.2,"x":10.76,"y":24.76},{"p":1,"l":0.2,"x":11.21,"y":25.06},{"p":1,"l":0.2,"x":11.57,"y":25.11},{"p":1,"l":0.2,"x":12.02,"y":25.22},{"p":1,"l":0.2,"x":11.88,"y":24.98},{"p":1,"l":0.2,"x":12.33,"y":24.98},{"p":1,"l":0.2,"x":12.47,"y":24.65},{"p":1,"l":0.2,"x":13.05,"y":24.84},{"p":1,"l":0.2,"x":13.37,"y":24.22},{"p":1,"l":0.2,"x":13.59,"y":24.49},{"p":1,"l":0.2,"x":13.59,"y":24.63},{"p":1,"l":0.2,"x":14.05,"y":24.84},{"p":1,"l":0.2,"x":14.76,"y":24.84},{"p":1,"l":0.2,"x":14.9,"y":24.63},{"p":1,"l":0.2,"x":15.48,"y":24.49},{"p":1,"l":0.2,"x":15.3,"y":24.17},{"p":1,"l":0.2,"x":15.98,"y":23.96},{"p":1,"l":0.2,"x":16.3,"y":23.71},{"p":1,"l":0.2,"x":16.84,"y":24.09},{"p":1,"l":0.2,"x":17.07,"y":23.9},{"p":1,"l":0.2,"x":17.34,"y":24.09},{"p":1,"l":0.2,"x":17.07,"y":23.63},{"p":1,"l":0.2,"x":17.65,"y":23.87},{"p":1,"l":0.2,"x":18.1,"y":24.09},{"p":1,"l":0.2,"x":18.33,"y":23.77},{"p":1,"l":0.2,"x":18.87,"y":23.07},{"p":1,"l":0.2,"x":19.14,"y":22.55},{"p":1,"l":0.2,"x":19.36,"y":22.39},{"p":1,"l":0.2,"x":18.91,"y":22.12},{"p":1,"l":0.2,"x":19.32,"y":21.88},{"p":1,"l":0.2,"x":19.68,"y":21.48},{"p":1,"l":0.2,"x":20.13,"y":21.26},{"p":1,"l":0.2,"x":19.81,"y":20.97},{"p":1,"l":0.2,"x":20.44,"y":20.75},{"p":1,"l":0.2,"x":20.04,"y":20.48},{"p":1,"l":0.2,"x":20.44,"y":20.21},{"p":1,"l":0.2,"x":20.26,"y":19.94},{"p":1,"l":0.2,"x":20.93,"y":19.83},{"p":1,"l":0.2,"x":20.8,"y":19.62},{"p":1,"l":0.2,"x":21.52,"y":19.54},{"p":1,"l":0.2,"x":21.79,"y":19.35},{"p":1,"l":0.2,"x":22.06,"y":19},{"p":1,"l":0.2,"x":22.6,"y":19.43},{"p":1,"l":0.2,"x":22.96,"y":19.3},{"p":1,"l":0.2,"x":23.59,"y":19.43},{"p":1,"l":0.2,"x":23.86,"y":19.27},{"p":1,"l":0.2,"x":24.18,"y":19.43},{"p":1,"l":0.2,"x":24.63,"y":19.35},{"p":1,"l":0.2,"x":25.66,"y":19.54},{"p":1,"l":0.2,"x":26.2,"y":19.57},{"p":1,"l":0.2,"x":26.79,"y":19.7},{"p":1,"l":0.2,"x":27.33,"y":19.43},{"p":1,"l":0.2,"x":28.09,"y":19.35},{"p":1,"l":0.2,"x":28.68,"y":19.22},{"p":1,"l":0.2,"x":29.26,"y":19.03},{"p":1,"l":0.2,"x":29.66,"y":19.09},{"p":1,"l":0.2,"x":29.57,"y":18.82},{"p":1,"l":0.2,"x":30.47,"y":18.68},{"p":1,"l":0.2,"x":31.24,"y":18.36},{"p":1,"l":0.2,"x":30.79,"y":18.2},{"p":1,"l":0.2,"x":31.06,"y":18.01},{"p":1,"l":0.2,"x":31.6,"y":18.33},{"p":1,"l":0.2,"x":32.2,"y":18.33},{"p":1,"l":0.2,"x":32.65,"y":18.06},{"p":1,"l":0.2,"x":33,"y":17.74},{"p":1,"l":0.2,"x":33,"y":17.52},{"p":1,"l":0.2,"x":32.38,"y":17.01},{"p":1,"l":0.2,"x":31.74,"y":17.01},{"p":1,"l":0.2,"x":31.65,"y":16.71},{"p":1,"l":0.2,"x":31.29,"y":16.87},{"p":1,"l":0.2,"x":30.7,"y":16.93},{"p":1,"l":0.2,"x":30.25,"y":16.61},{"p":1,"l":0.2,"x":29.93,"y":16.39},{"p":1,"l":0.2,"x":29.26,"y":15.94},{"p":1,"l":0.2,"x":28.9,"y":15.72},{"p":1,"l":0.2,"x":28.9,"y":15.32},{"p":1,"l":0.2,"x":27.87,"y":15.24},{"p":1,"l":0.2,"x":27.69,"y":15.51},{"p":1,"l":0.2,"x":26.97,"y":15.53},{"p":1,"l":0.2,"x":26.34,"y":15.1},{"p":1,"l":0.2,"x":25.62,"y":15.27},{"p":1,"l":0.2,"x":24.54,"y":15.24},{"p":1,"l":0.2,"x":23.95,"y":15.4},{"p":1,"l":0.2,"x":23.59,"y":15.1},{"p":1,"l":0.2,"x":22.74,"y":15.27},{"p":1,"l":0.2,"x":22.15,"y":15.4},{"p":1,"l":0.2,"x":21.38,"y":14.86},{"p":1,"l":0.2,"x":21.34,"y":14.73},{"p":1,"l":0.2,"x":20.93,"y":15.05},{"p":1,"l":0.2,"x":20.48,"y":15.1},{"p":1,"l":0.2,"x":19.9,"y":15.19},{"p":1,"l":0.2,"x":19.32,"y":15.13},{"p":1,"l":0.2,"x":18.87,"y":14.97},{"p":1,"l":0.2,"x":18.46,"y":15},{"p":1,"l":0.2,"x":18.15,"y":15.46},{"p":1,"l":0.2,"x":17.7,"y":15.37},{"p":1,"l":0.2,"x":17.83,"y":15.59},{"p":1,"l":0.2,"x":17.43,"y":16.1},{"p":1,"l":0.2,"x":16.84,"y":16.64},{"p":1,"l":0.2,"x":16.17,"y":16.26},{"p":1,"l":0.2,"x":16.53,"y":16.05},{"p":1,"l":0.2,"x":15.4,"y":15.99},{"p":1,"l":0.2,"x":15.71,"y":15.59},{"p":1,"l":0.2,"x":15.17,"y":15.59},{"p":1,"l":0.2,"x":14.4,"y":15.99},{"p":1,"l":0.2,"x":14.59,"y":16.23},{"p":1,"l":0.2,"x":14.14,"y":16.31},{"p":1,"l":0.2,"x":13.59,"y":16.8},{"p":1,"l":0.2,"x":13.59,"y":17.2},{"p":1,"l":0.2,"x":13.28,"y":17.33},{"p":1,"l":0.2,"x":13.01,"y":17.33},{"p":1,"l":0.2,"x":12.83,"y":17.15},{"p":1,"l":0.2,"x":12.83,"y":16.2},{"p":1,"l":0.2,"x":12.33,"y":16.2},{"p":1,"l":0.2,"x":12.02,"y":16.13},{"p":1,"l":0.2,"x":11.48,"y":16.39},{"p":1,"l":0.2,"x":11.48,"y":16.85},{"p":1,"l":0.2,"x":11.26,"y":17.01},{"p":1,"l":0.2,"x":11.26,"y":17.47},{"p":1,"l":0.2,"x":10.98,"y":17.66},{"p":1,"l":0.2,"x":11.12,"y":17.82},{"p":1,"l":0.2,"x":10.67,"y":18.09},{"p":1,"l":0.2,"x":10.67,"y":18.46},{"p":1,"l":0.2,"x":10.21,"y":18.73},{"p":1,"l":0.2,"x":10.35,"y":18.87},{"p":1,"l":0.2,"x":10.17,"y":19.0},{"p":1,"l":0.2,"x":10.17,"y":19.81},{"p":1,"l":0.2,"x":9.9,"y":19.97},{"p":1,"l":0.2,"x":10.21,"y":20.24},{"p":1,"l":0.2,"x":9.9,"y":20.51},{"p":1,"l":0.2,"x":9.99,"y":20.97},{"p":1,"l":0.2,"x":10.17,"y":21.24},{"p":1,"l":0.2,"x":10.12,"y":21.96},{"p":1,"l":0.2,"x":9.9,"y":22.12},{"p":1,"l":0.2,"x":10.17,"y":23.03},{"p":1,"l":0.2,"x":10.35,"y":23.3},{"p":1,"l":0.2,"x":10.21,"y":23.44},{"p":1,"l":0.2,"x":10.35,"y":23.79},{"p":1,"l":0.2,"x":10.67,"y":24},{"p":1,"l":0.2,"x":10.53,"y":24.2},{"p":1,"l":0.2,"x":10.67,"y":24.38},{"p":1,"l":0.2,"x":10.53,"y":24.55},
{"p":2,"l":0.32,"x":22.06,"y":19},{"p":2,"l":0.32,"x":22.6,"y":19.43},{"p":2,"l":0.32,"x":22.96,"y":19.3},{"p":2,"l":0.32,"x":23.59,"y":19.43},{"p":2,"l":0.32,"x":23.86,"y":19.27},{"p":2,"l":0.32,"x":24.18,"y":19.43},{"p":2,"l":0.32,"x":24.63,"y":19.35},{"p":2,"l":0.32,"x":25.66,"y":19.54},{"p":2,"l":0.32,"x":26.2,"y":19.57},{"p":2,"l":0.32,"x":26.79,"y":19.7},{"p":2,"l":0.32,"x":27.33,"y":19.43},{"p":2,"l":0.32,"x":28.09,"y":19.35},{"p":2,"l":0.32,"x":28.68,"y":19.22},{"p":2,"l":0.32,"x":29.26,"y":19.03},{"p":2,"l":0.32,"x":29.66,"y":19.09},{"p":2,"l":0.32,"x":29.57,"y":18.82},{"p":2,"l":0.32,"x":30.47,"y":18.68},{"p":2,"l":0.32,"x":31.24,"y":18.36},{"p":2,"l":0.32,"x":30.79,"y":18.2},{"p":2,"l":0.32,"x":31.06,"y":18.01},{"p":2,"l":0.32,"x":31.6,"y":18.33},{"p":2,"l":0.32,"x":31.15,"y":17.6},{"p":2,"l":0.32,"x":31.38,"y":16.87},{"p":2,"l":0.32,"x":30.7,"y":16.93},{"p":2,"l":0.32,"x":30.25,"y":16.61},{"p":2,"l":0.32,"x":29.93,"y":16.39},{"p":2,"l":0.32,"x":29.26,"y":15.94},{"p":2,"l":0.32,"x":28.9,"y":15.72},{"p":2,"l":0.32,"x":28.9,"y":15.32},{"p":2,"l":0.32,"x":27.87,"y":15.24},{"p":2,"l":0.32,"x":27.69,"y":15.51},{"p":2,"l":0.32,"x":26.97,"y":15.53},{"p":2,"l":0.32,"x":26.34,"y":15.1},{"p":2,"l":0.32,"x":25.62,"y":15.27},{"p":2,"l":0.32,"x":24.54,"y":15.24},{"p":2,"l":0.32,"x":23.95,"y":15.4},{"p":2,"l":0.32,"x":23.59,"y":15.1},{"p":2,"l":0.32,"x":22.74,"y":15.27},{"p":2,"l":0.32,"x":22.15,"y":15.4},{"p":2,"l":0.32,"x":21.93,"y":15.99},{"p":2,"l":0.32,"x":22.24,"y":17.2},{"p":2,"l":0.32,"x":22.06,"y":18.28},
{"p":3,"l":0.44,"x":31.6,"y":18.33},{"p":3,"l":0.44,"x":32.2,"y":18.33},{"p":3,"l":0.44,"x":32.65,"y":18.06},{"p":3,"l":0.44,"x":33,"y":17.74},{"p":3,"l":0.44,"x":33,"y":17.52},{"p":3,"l":0.44,"x":32.38,"y":17.01},{"p":3,"l":0.44,"x":31.74,"y":17.01},{"p":3,"l":0.44,"x":31.65,"y":16.71},{"p":3,"l":0.44,"x":31.29,"y":16.87},{"p":3,"l":0.44,"x":31.06,"y":17.33},{"p":3,"l":0.44,"x":30.93,"y":17.74},
{"p":4,"l":0.28,"x":22.15,"y":18.82},{"p":4,"l":0.28,"x":23.05,"y":19.14},{"p":4,"l":0.28,"x":24.63,"y":19.14},{"p":4,"l":0.28,"x":25.75,"y":19.3},{"p":4,"l":0.28,"x":26.88,"y":19.43},{"p":4,"l":0.28,"x":28,"y":19.22},{"p":4,"l":0.28,"x":29.12,"y":18.9},{"p":4,"l":0.28,"x":30.02,"y":18.55},{"p":4,"l":0.28,"x":30.92,"y":17.96},{"p":4,"l":0.28,"x":31.01,"y":17.42},{"p":4,"l":0.28,"x":30.47,"y":17.07},{"p":4,"l":0.28,"x":29.8,"y":16.77},{"p":4,"l":0.28,"x":28.9,"y":16.37},{"p":4,"l":0.28,"x":28,"y":15.99},{"p":4,"l":0.28,"x":27,"y":15.75},{"p":4,"l":0.28,"x":26.3,"y":15.3},{"p":4,"l":0.28,"x":25.6,"y":15.4},{"p":4,"l":0.28,"x":24.5,"y":15.4},{"p":4,"l":0.28,"x":23.95,"y":15.55},{"p":4,"l":0.28,"x":23.6,"y":15.3},{"p":4,"l":0.28,"x":22.7,"y":15.45},{"p":4,"l":0.28,"x":22.2,"y":15.55},{"p":4,"l":0.28,"x":22.38,"y":17.2},{"p":4,"l":0.28,"x":22.28,"y":18.14},
{"p":5,"l":0.24,"x":22.28,"y":18.68},{"p":5,"l":0.24,"x":23.27,"y":19.03},{"p":5,"l":0.24,"x":25.08,"y":19.09},{"p":5,"l":0.24,"x":26.65,"y":19.14},{"p":5,"l":0.24,"x":27.78,"y":18.87},{"p":5,"l":0.24,"x":28.9,"y":18.55},{"p":5,"l":0.24,"x":29.8,"y":18.14},{"p":5,"l":0.24,"x":30.88,"y":17.66},{"p":5,"l":0.24,"x":30.02,"y":17.04},{"p":5,"l":0.24,"x":29.12,"y":16.58},{"p":5,"l":0.24,"x":27.99,"y":16.23},{"p":5,"l":0.24,"x":27.33,"y":16.1},{"p":5,"l":0.24,"x":26.42,"y":15.9},{"p":5,"l":0.24,"x":25.4,"y":15.6},{"p":5,"l":0.24,"x":24.5,"y":15.7},{"p":5,"l":0.24,"x":23.9,"y":15.85},{"p":5,"l":0.24,"x":23.6,"y":15.6},{"p":5,"l":0.24,"x":22.8,"y":15.7},{"p":5,"l":0.24,"x":22.35,"y":15.85},{"p":5,"l":0.24,"x":22.47,"y":17.07},{"p":5,"l":0.24,"x":22.65,"y":18.14},
{"p":6,"l":0.2,"x":22.38,"y":18.55},{"p":6,"l":0.2,"x":23.27,"y":18.95},{"p":6,"l":0.2,"x":25.3,"y":19.0},{"p":6,"l":0.2,"x":26.65,"y":18.82},{"p":6,"l":0.2,"x":28.45,"y":18.63},{"p":6,"l":0.2,"x":28.9,"y":17.71},{"p":6,"l":0.2,"x":29.35,"y":17.33},{"p":6,"l":0.2,"x":28.54,"y":16.61},{"p":6,"l":0.2,"x":27.64,"y":16.23},{"p":6,"l":0.2,"x":26.52,"y":16.5},{"p":6,"l":0.2,"x":24.94,"y":16.61},{"p":6,"l":0.2,"x":23.37,"y":16.55},{"p":6,"l":0.2,"x":22.92,"y":17.07},{"p":6,"l":0.2,"x":22.92,"y":18.01},
{"p":7,"l":0.16,"x":22.51,"y":18.55},{"p":7,"l":0.16,"x":23.41,"y":18.9},{"p":7,"l":0.16,"x":25.12,"y":18.82},{"p":7,"l":0.16,"x":26.25,"y":18.63},{"p":7,"l":0.16,"x":27.78,"y":17.82},{"p":7,"l":0.16,"x":27.33,"y":17.2},{"p":7,"l":0.16,"x":27.01,"y":16.71},{"p":7,"l":0.16,"x":25.3,"y":16.71},{"p":7,"l":0.16,"x":23.81,"y":16.66},{"p":7,"l":0.16,"x":23.05,"y":17.2},{"p":7,"l":0.16,"x":22.92,"y":17.93},
{"p":71,"l":0.32,"x":22.9,"y":16.4},{"p":71,"l":0.32,"x":23.6,"y":16.45},{"p":71,"l":0.32,"x":24.2,"y":16},{"p":71,"l":0.32,"x":23.6,"y":15.8},{"p":71,"l":0.32,"x":23,"y":15.95},
{"p":8,"l":0.44,"x":16.3,"y":23.71},{"p":8,"l":0.44,"x":16.84,"y":24.09},{"p":8,"l":0.44,"x":17.07,"y":23.9},{"p":8,"l":0.44,"x":17.34,"y":24.09},{"p":8,"l":0.44,"x":17.07,"y":23.63},{"p":8,"l":0.44,"x":17.65,"y":23.87},{"p":8,"l":0.44,"x":18.1,"y":24.09},{"p":8,"l":0.44,"x":18.33,"y":23.77},{"p":8,"l":0.44,"x":18.87,"y":23.07},{"p":8,"l":0.44,"x":19.14,"y":22.55},{"p":8,"l":0.44,"x":19.36,"y":22.39},{"p":8,"l":0.44,"x":18.91,"y":22.12},{"p":8,"l":0.44,"x":19.32,"y":21.88},{"p":8,"l":0.44,"x":19.68,"y":21.48},{"p":8,"l":0.44,"x":20.13,"y":21.26},{"p":8,"l":0.44,"x":19.81,"y":20.97},{"p":8,"l":0.44,"x":19.45,"y":21.2},{"p":8,"l":0.44,"x":18.55,"y":21.58},{"p":8,"l":0.44,"x":18.1,"y":21.97},{"p":8,"l":0.44,"x":16.98,"y":22.12},{"p":8,"l":0.44,"x":16.53,"y":22.52},{"p":8,"l":0.44,"x":16.17,"y":22.93},{"p":8,"l":0.44,"x":15.98,"y":23.47},
{"p":9,"l":0.32,"x":15.93,"y":23.66},{"p":9,"l":0.32,"x":16.17,"y":22.58},{"p":9,"l":0.32,"x":16.75,"y":21.91},{"p":9,"l":0.32,"x":17.88,"y":21.37},{"p":9,"l":0.32,"x":18.78,"y":20.97},{"p":9,"l":0.32,"x":19.68,"y":20.81},{"p":9,"l":0.32,"x":20.04,"y":20.97},{"p":9,"l":0.32,"x":19.81,"y":20.97},{"p":9,"l":0.32,"x":19.45,"y":21.2},{"p":9,"l":0.32,"x":18.55,"y":21.58},{"p":9,"l":0.32,"x":18.1,"y":21.97},{"p":9,"l":0.32,"x":16.98,"y":22.12},{"p":9,"l":0.32,"x":16.53,"y":22.52},{"p":9,"l":0.32,"x":16.17,"y":22.93},
{"p":10,"l":0.52,"x":16.3,"y":23.38},{"p":10,"l":0.52,"x":16.84,"y":23.66},{"p":10,"l":0.52,"x":17.65,"y":23.4},{"p":10,"l":0.52,"x":17.88,"y":22.98},{"p":10,"l":0.52,"x":17,"y":23.0},{"p":10,"l":0.52,"x":16.3,"y":23.17},
{"p":11,"l":0.28,"x":18.55,"y":21.2},{"p":11,"l":0.28,"x":19.45,"y":20.93},{"p":11,"l":0.28,"x":19.81,"y":20.75},{"p":11,"l":0.28,"x":20.04,"y":20.48},{"p":11,"l":0.28,"x":19.68,"y":20.16},{"p":11,"l":0.28,"x":19.23,"y":20.43},{"p":11,"l":0.28,"x":18.55,"y":20.83},
{"p":12,"l":0.16,"x":10.17,"y":22.4},{"p":12,"l":0.16,"x":10.5,"y":23.1},{"p":12,"l":0.16,"x":11.09,"y":24.36},{"p":12,"l":0.16,"x":11.99,"y":24.57},{"p":12,"l":0.16,"x":12.76,"y":24.17},{"p":12,"l":0.16,"x":13.28,"y":23.87},{"p":12,"l":0.16,"x":13.91,"y":24.36},{"p":12,"l":0.16,"x":15.08,"y":24.3},{"p":12,"l":0.16,"x":15.76,"y":23.77},{"p":12,"l":0.16,"x":15.62,"y":23.03},{"p":12,"l":0.16,"x":16.43,"y":21.78},{"p":12,"l":0.16,"x":17.34,"y":21.11},{"p":12,"l":0.16,"x":18.91,"y":20.59},{"p":12,"l":0.16,"x":20.04,"y":19.78},{"p":12,"l":0.16,"x":20.58,"y":19.27},{"p":12,"l":0.16,"x":20.93,"y":18.6},{"p":12,"l":0.16,"x":21.03,"y":18.01},{"p":12,"l":0.16,"x":21.57,"y":16.93},{"p":12,"l":0.16,"x":21.93,"y":16.13},{"p":12,"l":0.16,"x":21.79,"y":15.46},{"p":12,"l":0.16,"x":20.67,"y":15.27},{"p":12,"l":0.16,"x":18.87,"y":15.32},{"p":12,"l":0.16,"x":17.74,"y":15.86},{"p":12,"l":0.16,"x":17.2,"y":16.53},{"p":12,"l":0.16,"x":15.85,"y":16.53},{"p":12,"l":0.16,"x":14.5,"y":17.07},{"p":12,"l":0.16,"x":13.59,"y":17.47},{"p":12,"l":0.16,"x":11.34,"y":17.2},{"p":12,"l":0.16,"x":10.44,"y":18.14},{"p":12,"l":0.16,"x":9.99,"y":19.21},{"p":12,"l":0.16,"x":9.99,"y":20.81},
{"p":13,"l":0.12,"x":10.53,"y":22.5},{"p":13,"l":0.12,"x":10.8,"y":23.17},{"p":13,"l":0.12,"x":11.34,"y":24.12},{"p":13,"l":0.12,"x":12.15,"y":24.12},{"p":13,"l":0.12,"x":12.78,"y":23.74},{"p":13,"l":0.12,"x":13.37,"y":23.47},{"p":13,"l":0.12,"x":14.05,"y":23.79},{"p":13,"l":0.12,"x":15.04,"y":23.73},{"p":13,"l":0.12,"x":15.62,"y":23.25},{"p":13,"l":0.12,"x":15.4,"y":22.44},{"p":13,"l":0.12,"x":16.08,"y":21.24},{"p":13,"l":0.12,"x":17.2,"y":20.57},{"p":13,"l":0.12,"x":18.55,"y":20.03},{"p":13,"l":0.12,"x":19.9,"y":19.22},{"p":13,"l":0.12,"x":20.48,"y":18.82},{"p":13,"l":0.12,"x":20.8,"y":18.28},{"p":13,"l":0.12,"x":20.89,"y":17.74},{"p":13,"l":0.12,"x":21.34,"y":16.8},{"p":13,"l":0.12,"x":21.57,"y":15.86},{"p":13,"l":0.12,"x":21.34,"y":15.59},{"p":13,"l":0.12,"x":20.26,"y":15.32},{"p":13,"l":0.12,"x":18.69,"y":15.46},{"p":13,"l":0.12,"x":17.97,"y":15.86},{"p":13,"l":0.12,"x":17.34,"y":16.53},{"p":13,"l":0.12,"x":15.76,"y":16.75},{"p":13,"l":0.12,"x":14.63,"y":17.4},{"p":13,"l":0.12,"x":13.91,"y":17.53},{"p":13,"l":0.12,"x":12.33,"y":17.53},{"p":13,"l":0.12,"x":11.21,"y":17.53},{"p":13,"l":0.12,"x":10.53,"y":18.34},{"p":13,"l":0.12,"x":10.08,"y":19.27},{"p":13,"l":0.12,"x":10.08,"y":20.9},
{"p":14,"l":0.04,"x":15.62,"y":22.34},{"p":14,"l":0.04,"x":16.21,"y":21.26},{"p":14,"l":0.04,"x":16.35,"y":20.0},{"p":14,"l":0.04,"x":16.8,"y":19.57},{"p":14,"l":0.04,"x":18.55,"y":18.92},{"p":14,"l":0.04,"x":18.42,"y":18.39},{"p":14,"l":0.04,"x":17.38,"y":17.85},{"p":14,"l":0.04,"x":17.2,"y":17.5},{"p":14,"l":0.04,"x":15.85,"y":17.04},{"p":14,"l":0.04,"x":14.68,"y":17.5},{"p":14,"l":0.04,"x":14.59,"y":18.04},{"p":14,"l":0.04,"x":13.91,"y":18.14},{"p":14,"l":0.04,"x":14.36,"y":19.62},{"p":14,"l":0.04,"x":15.04,"y":20.97},
{"p":15,"l":0.04,"x":19.9,"y":17.79},{"p":15,"l":0.04,"x":20.67,"y":16.98},{"p":15,"l":0.04,"x":20.12,"y":16.7},{"p":15,"l":0.04,"x":18.96,"y":17.2},{"p":15,"l":0.04,"x":19.63,"y":17.6},
{"p":16,"l":0.0,"x":10.89,"y":23.66},{"p":16,"l":0.0,"x":11.34,"y":24.28},{"p":16,"l":0.0,"x":11.88,"y":24.25},{"p":16,"l":0.0,"x":12.33,"y":24.14},{"p":16,"l":0.0,"x":12.78,"y":23.71},{"p":16,"l":0.0,"x":13.37,"y":23.12},{"p":16,"l":0.0,"x":13.73,"y":23.66},{"p":16,"l":0.0,"x":14.18,"y":23.85},{"p":16,"l":0.0,"x":14.81,"y":23.71},{"p":16,"l":0.0,"x":15.26,"y":23.39},{"p":16,"l":0.0,"x":15.53,"y":22.85},{"p":16,"l":0.0,"x":15.4,"y":22.12},{"p":16,"l":0.0,"x":15.53,"y":21.32},{"p":16,"l":0.0,"x":15.71,"y":20.51},{"p":16,"l":0.0,"x":15.76,"y":19.81},{"p":16,"l":0.0,"x":15.4,"y":19.38},{"p":16,"l":0.0,"x":14.63,"y":18.33},{"p":16,"l":0.0,"x":13.91,"y":17.96},{"p":16,"l":0.0,"x":12.83,"y":17.88},{"p":16,"l":0.0,"x":12.24,"y":17.96},{"p":16,"l":0.0,"x":11.79,"y":17.69},{"p":16,"l":0.0,"x":11.34,"y":17.93},{"p":16,"l":0.0,"x":10.76,"y":18.49},{"p":16,"l":0.0,"x":10.35,"y":19.14},{"p":16,"l":0.0,"x":10.17,"y":20.43},{"p":16,"l":0.0,"x":10.21,"y":21.05},{"p":16,"l":0.0,"x":10.35,"y":22.12},{"p":16,"l":0.0,"x":10.44,"y":22.85},{"p":16,"l":0.0,"x":10.67,"y":23.39},
{"p":17,"l":0.24,"x":11.48,"y":17.07},{"p":17,"l":0.24,"x":12.69,"y":17.07},{"p":17,"l":0.24,"x":12.69,"y":16.26},{"p":17,"l":0.24,"x":11.79,"y":16.2},{"p":17,"l":0.24,"x":11.43,"y":16.53},
{"p":18,"l":0.32,"x":14.32,"y":16.18},{"p":18,"l":0.32,"x":14.86,"y":16.53},{"p":18,"l":0.32,"x":15.76,"y":16.58},{"p":18,"l":0.32,"x":16.48,"y":16.39},{"p":18,"l":0.32,"x":16.3,"y":15.99},{"p":18,"l":0.32,"x":15.4,"y":15.94},{"p":18,"l":0.32,"x":14.72,"y":15.94},
{"p":19,"l":0.44,"x":14.95,"y":16.26},{"p":19,"l":0.44,"x":15.53,"y":16.48},{"p":19,"l":0.44,"x":15.98,"y":16.39},{"p":19,"l":0.44,"x":16.3,"y":15.99},{"p":19,"l":0.44,"x":15.44,"y":15.99},{"p":19,"l":0.44,"x":15.08,"y":15.99},
{"p":20,"l":0.32,"x":20.8,"y":18.55},{"p":20,"l":0.32,"x":21.16,"y":18.79},{"p":20,"l":0.32,"x":20.98,"y":19.22},{"p":20,"l":0.32,"x":21.34,"y":19.08},{"p":20,"l":0.32,"x":21.7,"y":18.79},{"p":20,"l":0.32,"x":22.15,"y":18.17},{"p":20,"l":0.32,"x":22.38,"y":17.44},{"p":20,"l":0.32,"x":22.38,"y":16.64},{"p":20,"l":0.32,"x":22.06,"y":16.56},{"p":20,"l":0.32,"x":21.57,"y":16.99},{"p":20,"l":0.32,"x":21.03,"y":17.79},{"p":20,"l":0.32,"x":20.8,"y":18.2},
{"p":21,"l":0.44,"x":21.1,"y":18.4},{"p":21,"l":0.44,"x":21.4,"y":18.75},{"p":21,"l":0.44,"x":21.75,"y":18.44},{"p":21,"l":0.44,"x":22.01,"y":17.77},{"p":21,"l":0.44,"x":22.19,"y":17.12},{"p":21,"l":0.44,"x":22.1,"y":16.66},{"p":21,"l":0.44,"x":21.75,"y":16.98},{"p":21,"l":0.44,"x":21.4,"y":17.5},{"p":21,"l":0.44,"x":21.1,"y":17.93},
{"p":22,"l":0.56,"x":21.25,"y":18.28},{"p":22,"l":0.56,"x":21.6,"y":18.47},{"p":22,"l":0.56,"x":21.83,"y":18.14},{"p":22,"l":0.56,"x":21.92,"y":17.6},{"p":22,"l":0.56,"x":21.7,"y":17.6},{"p":22,"l":0.56,"x":21.43,"y":17.88},
{"p":23,"l":0.64,"x":21.25,"y":18.82},{"p":23,"l":0.64,"x":21.43,"y":19.08},{"p":23,"l":0.64,"x":21.57,"y":18.82},{"p":23,"l":0.64,"x":21.43,"y":18.63},
{"p":24,"l":0.64,"x":21,"y":19.27},{"p":24,"l":0.64,"x":21.16,"y":19.4},{"p":24,"l":0.64,"x":21.25,"y":19.27},{"p":24,"l":0.64,"x":21.07,"y":19.14},
{"p":25,"l":0.84,"x":21.04,"y":19.3},{"p":25,"l":0.84,"x":21.12,"y":19.33},{"p":25,"l":0.84,"x":21.16,"y":19.27},{"p":25,"l":0.84,"x":21.07,"y":19.22},
{"p":26,"l":0.44,"x":24.9,"y":16.13},{"p":26,"l":0.44,"x":25.57,"y":16.32},{"p":26,"l":0.44,"x":26.25,"y":16.13},{"p":26,"l":0.44,"x":26.92,"y":15.59},{"p":26,"l":0.44,"x":26.34,"y":15.1},{"p":26,"l":0.44,"x":25.62,"y":15.27},{"p":26,"l":0.44,"x":24.95,"y":15.35},
{"p":27,"l":0.64,"x":25.12,"y":15.59},{"p":27,"l":0.64,"x":25.35,"y":15.86},{"p":27,"l":0.64,"x":25.8,"y":15.99},{"p":27,"l":0.64,"x":26.16,"y":15.72},{"p":27,"l":0.64,"x":26.47,"y":15.32},{"p":27,"l":0.64,"x":26.02,"y":15.27},{"p":27,"l":0.64,"x":25.35,"y":15.46},
{"p":28,"l":0.44,"x":27.91,"y":15.59},{"p":28,"l":0.44,"x":28.36,"y":15.99},{"p":28,"l":0.44,"x":29.48,"y":16.53},{"p":28,"l":0.44,"x":29.93,"y":16.39},{"p":28,"l":0.44,"x":29.26,"y":15.94},{"p":28,"l":0.44,"x":28.9,"y":15.72},{"p":28,"l":0.44,"x":28.9,"y":15.32},{"p":28,"l":0.44,"x":27.87,"y":15.24}
],
"ca":[{"lo":0,"hi":0.2},{"lo":0.2,"hi":0.4},{"lo":0.4,"hi":0.6},{"lo":0.6,"hi":0.8},{"lo":0.8,"hi":1},{"lo":1,"hi":1.2},{"lo":1.2,"hi":1.4},{"lo":1.4,"hi":1.6},{"lo":1.6,"hi":1.8},{"lo":1.8,"hi":2},{"lo":2,"hi":2.2},{"lo":2.2,"hi":2.4},{"lo":2.4,"hi":2.6},{"lo":2.6,"hi":2.8},{"lo":2.8,"hi":3},{"lo":3,"hi":3.2},{"lo":3.2,"hi":3.4},{"lo":3.4,"hi":3.6},{"lo":3.6,"hi":3.8},{"lo":3.8,"hi":4},{"lo":4,"hi":4.2},{"lo":4.2,"hi":4.4},{"lo":4.4,"hi":4.6},{"lo":4.6,"hi":4.8},{"lo":4.8,"hi":5}],
"cb":[{"lo":0,"hi":0.04},{"lo":0.04,"hi":0.08},{"lo":0.08,"hi":0.12},{"lo":0.12,"hi":0.16},{"lo":0.16,"hi":0.2},{"lo":0.2,"hi":0.24},{"lo":0.24,"hi":0.28},{"lo":0.28,"hi":0.32},{"lo":0.32,"hi":0.36},{"lo":0.36,"hi":0.4},{"lo":0.4,"hi":0.44},{"lo":0.44,"hi":0.48},{"lo":0.48,"hi":0.52},{"lo":0.52,"hi":0.56},{"lo":0.56,"hi":0.6},{"lo":0.6,"hi":0.64},{"lo":0.64,"hi":0.68},{"lo":0.68,"hi":0.72},{"lo":0.72,"hi":0.76},{"lo":0.76,"hi":0.8},{"lo":0.8,"hi":0.84},{"lo":0.84,"hi":0.88},{"lo":0.88,"hi":0.92},{"lo":0.92,"hi":0.96},{"lo":0.96,"hi":1}]},
"vconcat":[{"hconcat":[
{"width":547,"height":446,"data":{"name":"a"},"title":{"text":"A","anchor":"start","frame":"group","dx":-108,"offset":-4,"fontSize":28,"fontWeight":"bold","font":"Liberation Sans"},"mark":{"type":"line","filled":true,"strokeWidth":0},"encoding":{"x":{"field":"x","type":"quantitative","scale":{"domain":[9,33],"nice":false},"axis":{"values":[9,13,17,21,25,29,33],"title":"THC Binding (Å)","titleY":38}},"y":{"field":"y","type":"quantitative","scale":{"domain":[14,26],"nice":false},"axis":{"values":[14,18,22,26],"title":"N-loop Movement (Å)","titleX":-38}},"detail":{"field":"p","type":"nominal"},"order":{"value":null},"fill":{"field":"l","type":"quantitative","scale":{"type":"threshold","domain":[0.2,0.4,0.6,0.8,1,1.2,1.4,1.6,1.8,2,2.2,2.4,2.6,2.8,3,3.2,3.4,3.6,3.8,4,4.2,4.4,4.6,4.8],"range":["#2b2e83","#2f3f98","#384a9f","#3c52a3","#3d5aa8","#416db3","#4382c3","#3fa9e0","#4dc8e9","#68c4b8","#75c6a3","#7fc580","#95c763","#a6ce39","#bfd730","#d7df23","#fff200","#fdb913","#f99d1c","#f47920","#f15a22","#ef3e23","#ee1c25","#be1e2d","#8f1a1c"]},"legend":null}}},
{"width":22,"height":446,"data":{"name":"ca"},"mark":"rect","encoding":{"y":{"field":"lo","type":"quantitative","scale":{"domain":[0,5],"nice":false},"axis":{"orient":"right","values":[0,1,2,3,4,5],"title":"Free Energy (Kcal/mol)","titleAngle":270,"titleX":51,"titleBaseline":"middle"}},"y2":{"field":"hi"},"fill":{"field":"lo","type":"quantitative","scale":{"type":"threshold","domain":[0.2,0.4,0.6,0.8,1,1.2,1.4,1.6,1.8,2,2.2,2.4,2.6,2.8,3,3.2,3.4,3.6,3.8,4,4.2,4.4,4.6,4.8],"range":["#2b2e83","#2f3f98","#384a9f","#3c52a3","#3d5aa8","#416db3","#4382c3","#3fa9e0","#4dc8e9","#68c4b8","#75c6a3","#7fc580","#95c763","#a6ce39","#bfd730","#d7df23","#fff200","#fdb913","#f99d1c","#f47920","#f15a22","#ef3e23","#ee1c25","#be1e2d","#8f1a1c"]},"legend":null}}}
],"spacing":36,"bounds":"flush","resolve":{"scale":{"fill":"independent"}}},
{"hconcat":[{"hconcat":[
{"width":1,"height":446,"data":{"values":[{"a":0}]},"view":{"stroke":null},"mark":{"type":"rule","opacity":0},"encoding":{}},
{"width":533,"height":446,"data":{"name":"b"},"title":{"text":"B","anchor":"start","frame":"group","dx":-124,"offset":29,"fontSize":28,"fontWeight":"bold","font":"Liberation Sans"},"mark":{"type":"line","filled":true,"strokeWidth":0},"encoding":{"x":{"field":"x","type":"quantitative","scale":{"domain":[9,33],"nice":false},"axis":{"values":[9,13,17,21,25,29,33],"title":"THC Binding (Å)","titleY":39}},"y":{"field":"y","type":"quantitative","scale":{"domain":[14,26],"nice":false},"axis":{"values":[14,18,22,26],"title":"N-loop Movement (Å)","titleX":-34}},"detail":{"field":"p","type":"nominal"},"order":{"value":null},"fill":{"field":"l","type":"quantitative","scale":{"type":"threshold","domain":[0.04,0.08,0.12,0.16,0.2,0.24,0.28,0.32,0.36,0.4,0.44,0.48,0.52,0.56,0.6,0.64,0.68,0.72,0.76,0.8,0.84,0.88,0.92,0.96],"range":["#2b2e83","#2f3f98","#384a9f","#3c52a3","#3d5aa8","#416db3","#4382c3","#3fa9e0","#4dc8e9","#68c4b8","#75c6a3","#7fc580","#95c763","#a6ce39","#bfd730","#d7df23","#fff200","#fdb913","#f99d1c","#f47920","#f15a22","#ef3e23","#ee1c25","#be1e2d","#8f1a1c"]},"legend":null}}}
],"spacing":17,"bounds":"flush"},
{"width":22,"height":446,"data":{"name":"cb"},"mark":"rect","encoding":{"y":{"field":"lo","type":"quantitative","scale":{"domain":[0,1],"nice":false},"axis":{"orient":"right","values":[0,0.2,0.4,0.6,0.8,1],"format":".1f","title":"Free Energy (Kcal/mol)","titleAngle":270,"titleX":72,"titleBaseline":"middle"}},"y2":{"field":"hi"},"fill":{"field":"lo","type":"quantitative","scale":{"type":"threshold","domain":[0.04,0.08,0.12,0.16,0.2,0.24,0.28,0.32,0.36,0.4,0.44,0.48,0.52,0.56,0.6,0.64,0.68,0.72,0.76,0.8,0.84,0.88,0.92,0.96],"range":["#2b2e83","#2f3f98","#384a9f","#3c52a3","#3d5aa8","#416db3","#4382c3","#3fa9e0","#4dc8e9","#68c4b8","#75c6a3","#7fc580","#95c763","#a6ce39","#bfd730","#d7df23","#fff200","#fdb913","#f99d1c","#f47920","#f15a22","#ef3e23","#ee1c25","#be1e2d","#8f1a1c"]},"legend":null}}}
],"spacing":586,"bounds":"flush","resolve":{"scale":{"fill":"independent"}}}
],"spacing":569,"bounds":"flush","resolve":{"scale":{"fill":"independent"}}}
